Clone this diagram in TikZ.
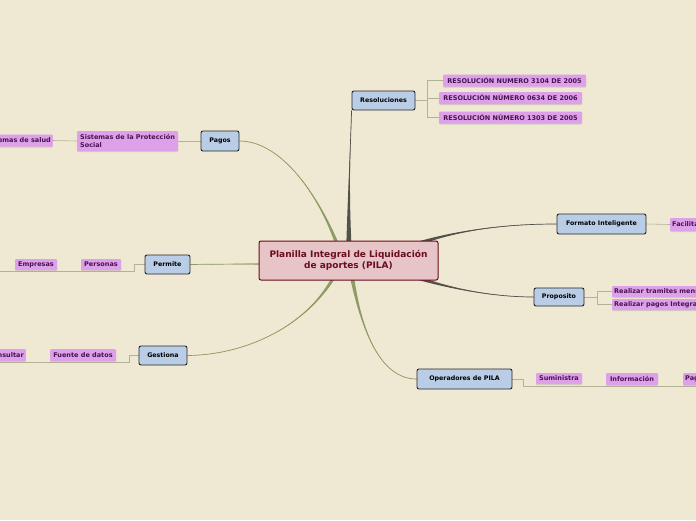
\documentclass[tikz,border=0pt]{standalone}
\usepackage{fontspec}
\setmainfont{DejaVu Sans}
\usetikzlibrary{calc,shadows}

\definecolor{paper}{RGB}{239,232,210}
\definecolor{rootfill}{RGB}{230,196,200}
\definecolor{rootline}{RGB}{106,13,28}
\definecolor{topicfill}{RGB}{185,205,230}
\definecolor{subfill}{RGB}{221,160,233}
\definecolor{subtext}{RGB}{70,20,80}
\definecolor{darkbranch}{RGB}{82,82,74}
\definecolor{greenbranch}{RGB}{142,156,99}
\definecolor{thinline}{RGB}{178,178,150}

\pgfdeclarelayer{bg}
\pgfdeclarelayer{lines}
\pgfsetlayers{bg,lines,main}

% tapered branch: colour, start, control 1, control 2, end, half width
\newcommand{\branch}[6]{%
  \fill[#1] ($(#2)+#6$) .. controls #3 and #4 .. (#5)
    .. controls #4 and #3 .. ($(#2)-#6$) -- cycle;
  \draw[#1, line width=0.7pt] (#2) .. controls #3 and #4 .. (#5);}

\begin{document}
\begin{tikzpicture}[x=1pt, y=-1pt,
  root/.style={rectangle, rounded corners=2pt, draw=rootline, line width=1pt,
    fill=rootfill, text=rootline, align=center, inner sep=0pt,
    minimum width=179pt, minimum height=39pt,
    font=\fontsize{9}{11}\selectfont\bfseries},
  topic/.style={rectangle, rounded corners=2pt, draw=black!85, line width=0.9pt,
    fill=topicfill, inner sep=0pt, minimum height=19pt,
    font=\fontsize{6.3}{7}\selectfont\bfseries},
  sub/.style={rectangle, rounded corners=1pt, fill=subfill, text=subtext,
    inner sep=2pt, minimum height=12pt,
    drop shadow={shadow xshift=0pt, shadow yshift=-1pt, opacity=.25},
    font=\fontsize{6.5}{7.4}\selectfont\bfseries},
  link/.style={draw=thinline, line width=0.6pt}]

  \useasboundingbox (0,0) rectangle (696,520);
  \clip (0,0) rectangle (696,520);
  \begin{pgfonlayer}{bg}
    \fill[paper] (0,0) rectangle (696,520);
  \end{pgfonlayer}

  % central topic
  \node[root] (pila) at (348.5,260.5) {Planilla Integral de Liquidación\\de aportes (PILA)};

  % main topics
  \node[topic, minimum width=63pt] (res) at (383.5,100.5) {Resoluciones};
  \node[topic, minimum width=38pt, minimum height=20pt] (pagos) at (220,141) {Pagos};
  \node[topic, minimum width=45pt] (permite) at (167.5,264.5) {Permite};
  \node[topic, minimum width=48pt] (gest) at (163,355.5) {Gestiona};
  \node[topic, minimum width=89pt, minimum height=20pt] (fmt) at (601.5,224) {Formato Inteligente};
  \node[topic, minimum width=50pt, minimum height=18pt] (prop) at (559,297) {Proposito};
  \node[topic, minimum width=95pt, minimum height=20pt] (oper) at (464.5,379) {Operadores de PILA};

  % subtopics
  \node[sub, minimum width=143pt] (res1) at (514.5,80.5) {RESOLUCIÓN NUMERO 3104 DE 2005};
  \node[sub, minimum width=143pt] (res2) at (510.5,98) {RESOLUCIÓN NÚMERO 0634 DE 2006};
  \node[sub, minimum width=143pt] (res3) at (510.5,117.5) {RESOLUCIÓN NÚMERO 1303 DE 2005};
  \node[sub, minimum width=101pt, minimum height=20pt, align=left] (prot) at (127.5,141) {Sistemas de la Protección\\Social};
  \node[sub, anchor=east] (salud) at (53,140.5) {Sistemas de salud};
  \node[sub, minimum width=40pt, minimum height=11pt] (pers) at (101,264.5) {Personas};
  \node[sub, minimum width=42pt, minimum height=11pt] (emp) at (36,264.5) {Empresas};
  \node[sub, minimum width=66pt] (fuente) at (83,355) {Fuente de datos};
  \node[sub, anchor=east] (cons) at (26,355) {Consultar};
  \node[sub, anchor=west, minimum height=13pt] (facil) at (670,224.5) {Facilita};
  \node[sub, anchor=west, minimum height=11pt] (tram) at (612,291.5) {Realizar tramites mensuales};
  \node[sub, anchor=west, minimum height=11pt] (pint) at (612,304.5) {Realizar pagos Integrados};
  \node[sub, minimum width=46pt, minimum height=11pt] (sum) at (559,378.5) {Suministra};
  \node[sub, minimum width=52pt] (info) at (632,379) {Información};
  \node[sub, anchor=west] (pago) at (683,379) {Pagos};

  \coordinate (pe) at (0,271);
  \coordinate (ge) at (0,362);
  \coordinate (oe) at (696,386);

  \begin{pgfonlayer}{lines}
    % branches from the centre
    \branch{darkbranch}{349,255}{(348,185)}{(351,135)}{res.south west}{(3,0)}
    \branch{greenbranch}{342,258}{(325,205)}{(285,141)}{pagos.east}{(2.5,0)}
    \branch{greenbranch}{300,264}{(260,264)}{(220,264)}{permite.east}{(0,2)}
    \branch{greenbranch}{340,265}{(315,322)}{(250,355)}{gest.east}{(2.5,0)}
    \branch{darkbranch}{395,252}{(450,229)}{(510,224)}{fmt.west}{(0,3)}
    \branch{darkbranch}{395,270}{(450,291)}{(500,297)}{prop.west}{(0,3)}
    \branch{greenbranch}{350,265}{(360,330)}{(380,379)}{oper.west}{(2.5,0)}

    % thin links to subtopics
    \draw[link] (res.east) -- ++(12,0) coordinate (rj);
    \draw[link] (res1.west) -| (rj);
    \draw[link] (res2.west) -| (rj);
    \draw[link] (res3.west) -| (rj);
    \draw[link] (pagos.west) -- (prot.east);
    \draw[link] (prot.west) -- (salud.east);
    \draw[link] (permite.west) -- ++(-10,0) |- (pe);
    \draw[link] (gest.west) -- ++(-9,0) |- (ge);
    \draw[link] (fmt.east) -- (facil.west);
    \draw[link] (prop.east) -- ++(13,0) coordinate (pj);
    \draw[link] (tram.west) -| (pj);
    \draw[link] (pint.west) -| (pj);
    \draw[link] (oper.east) -- ++(11,0) |- (oe);
  \end{pgfonlayer}
\end{tikzpicture}
\end{document}
